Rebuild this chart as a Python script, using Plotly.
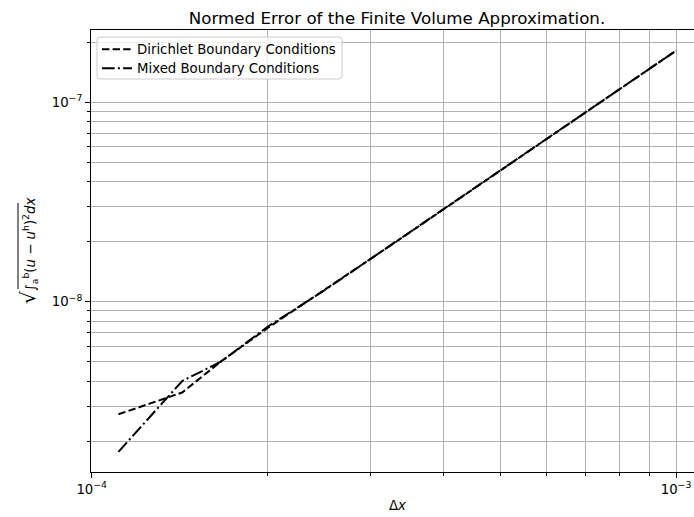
import plotly.graph_objects as go

# ---- data ----
dx = [1/9000, 1/8000, 1/7000, 1/6000, 1/5000, 1/4000, 1/3000, 1/2000, 1/1000]
err_dirichlet = [2.73e-9, 3.07e-9, 3.51e-9, 5.04e-9, 7.39e-9, 1.146e-8, 2.017e-8, 4.54e-8, 1.814e-7]
err_mixed = [1.77e-9, 2.60e-9, 4.01e-9, 5.02e-9, 7.50e-9, 1.14e-8, 2.02e-8, 4.54e-8, 1.814e-7]

x_major_vals = [1e-4, 1e-3]
x_major_text = ["10<sup>−4</sup>", "10<sup>−3</sup>"]
x_minor_vals = [2e-4, 3e-4, 4e-4, 5e-4, 6e-4, 7e-4, 8e-4, 9e-4]
y_major_vals = [1e-8, 1e-7]
y_major_text = ["10<sup>−8</sup>", "10<sup>−7</sup>"]
y_minor_vals = [2e-9, 3e-9, 4e-9, 5e-9, 6e-9, 7e-9, 8e-9, 9e-9,
                2e-8, 3e-8, 4e-8, 5e-8, 6e-8, 7e-8, 8e-8, 9e-8, 2e-7]

title_text = "Normed Error of the Finite Volume Approximation."
name_d = "Dirichlet Boundary Conditions"
name_m = "Mixed Boundary Conditions"
xlabel = "Δ<i>x</i>"
ylabel = ("<span style='font-size:20px'>√</span>∫<sub>a</sub><sup>b</sup>"
          "(<i>u</i> − <i>u</i><sup>h</sup>)<sup>2</sup><i>dx</i>")

FONT = "DejaVu Sans"
GRID = "#b0b0b0"
W, H = 694, 517
L, R, T, B = 91, 0, 30, 45
PW, PH = W - L - R, H - T - B


def px_x(p):
    return (p - L) / PW


def px_y(p):
    return (H - B - p) / PH


fig = go.Figure()
fig.add_trace(go.Scatter(x=dx, y=err_dirichlet, mode="lines", name=name_d, legend="legend",
                         line=dict(color="black", width=2, dash="7.4px,3.2px")))
fig.add_trace(go.Scatter(x=dx, y=err_mixed, mode="lines", name=name_m, legend="legend2",
                         line=dict(color="black", width=2, dash="12.7px,3.2px,2px,3.2px")))

axis_common = dict(
    type="log", showgrid=True, gridcolor=GRID, gridwidth=1,
    showline=True, linecolor="black", linewidth=1,
    ticks="outside", ticklen=5, tickwidth=1, tickcolor="black",
    zeroline=False, tickfont=dict(family=FONT, size=13.3, color="black"),
)

fig.update_xaxes(**axis_common, range=[-4.0012, -2.9692], mirror=True,
                 tickmode="array", tickvals=x_major_vals, ticktext=x_major_text,
                 minor=dict(tickmode="array", tickvals=x_minor_vals, ticks="outside",
                            ticklen=3, tickcolor="black", showgrid=True,
                            gridcolor=GRID, gridwidth=1))
fig.update_yaxes(**axis_common, range=[-8.8531, -6.6376],
                 tickmode="array", tickvals=y_major_vals, ticktext=y_major_text,
                 minor=dict(tickmode="array", tickvals=y_minor_vals, ticks="outside",
                            ticklen=3, tickcolor="black", showgrid=True,
                            gridcolor=GRID, gridwidth=1))

# legend frame (rounded rectangle)
bx0, bx1, by0, by1 = px_x(97), px_x(342), px_y(79), px_y(37)
rx, ry = 3 / PW, 3 / PH
frame_path = (f"M{bx0+rx},{by1} L{bx1-rx},{by1} Q{bx1},{by1} {bx1},{by1-ry} "
              f"L{bx1},{by0+ry} Q{bx1},{by0} {bx1-rx},{by0} "
              f"L{bx0+rx},{by0} Q{bx0},{by0} {bx0},{by0+ry} "
              f"L{bx0},{by1-ry} Q{bx0},{by1} {bx0+rx},{by1} Z")

leg_common = dict(xanchor="left", yanchor="top", bgcolor="rgba(0,0,0,0)",
                  borderwidth=0, font=dict(family=FONT, size=13.3, color="black"))

fig.update_layout(
    width=W, height=H,
    margin=dict(l=L, r=R, t=T, b=B),
    paper_bgcolor="white", plot_bgcolor="white",
    font=dict(family=FONT, color="black"),
    title=dict(text=title_text, x=397/W, xanchor="center", y=1-18/H,
               yanchor="middle", yref="container", xref="container",
               font=dict(family=FONT, size=16.7, color="black")),
    showlegend=True,
    legend=dict(x=px_x(97), y=px_y(34), **leg_common),
    legend2=dict(x=px_x(97), y=px_y(53), **leg_common),
    shapes=[
        dict(type="path", path=frame_path, xref="paper", yref="paper", layer="above",
             fillcolor="rgba(255,255,255,0.8)", line=dict(color="#cccccc", width=1)),
        # vinculum of the square root in the y-axis label
        dict(type="line", xref="paper", yref="paper", layer="above",
             x0=px_x(18), x1=px_x(18), y0=px_y(289), y1=px_y(203),
             line=dict(color="black", width=1)),
    ],
    annotations=[
        dict(text=xlabel, xref="paper", yref="paper",
             x=px_x(397), y=px_y(505), xanchor="center", yanchor="middle",
             showarrow=False, font=dict(family=FONT, size=13.3, color="black")),
        dict(text=ylabel, xref="paper", yref="paper", x=px_x(28), y=px_y(251),
             xanchor="center", yanchor="middle", textangle=-90,
             showarrow=False, font=dict(family=FONT, size=13.3, color="black")),
    ],
)

fig.write_html("out.html")
